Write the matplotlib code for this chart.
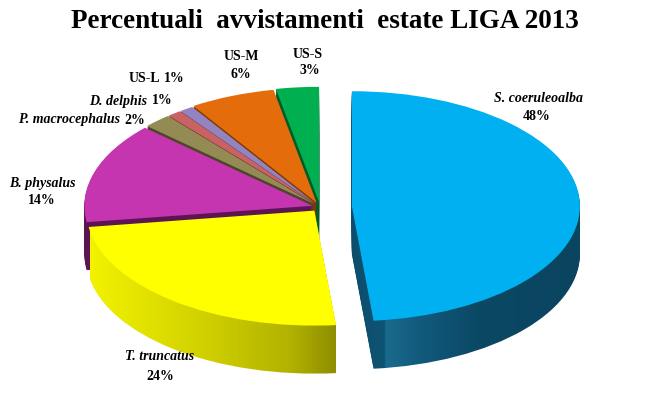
import numpy as np
import matplotlib.pyplot as plt
from matplotlib.colors import to_rgb

# dati (percentuali)
specie = ['S. coeruleoalba', 'T. truncatus', 'B. physalus', 'P. macrocephalus',
          'D. delphis', 'US-L', 'US-M', 'US-S']
percent = [48, 24, 14, 2, 1, 1, 6, 3]
corsivo = [True, True, True, True, True, False, False, False]

col_top = ['#00B0F0', '#FFFF00', '#C535B0', '#948A54',
           '#C96363', '#9583C0', '#E46C0A', '#00B050']
col_side = ['#0C4D6C', '#B4B400', '#5C1553', '#4C4629',
            '#6A2C2C', '#4B3E68', '#7C3A06', '#005C2A']
explode = [0.14, 0.04, 0.035, 0.035, 0.035, 0.035, 0.04, 0.045]

# sfumature dei lati (px, colore) per blu e giallo
sfum = {
    0: [(350, '#0D4D6C'), (384, '#0F5373'), (386, '#1A6A8D'), (425, '#10587A'),
        (480, '#0B4864'), (585, '#0A4560')],
    1: [(90, '#F2F200'), (200, '#D2D200'), (290, '#B2B200'), (348, '#848400')],
}

# posizioni delle etichette (pixel): nome, percentuale
pos_nome = [(538, 98), (160, 356), (42, 183), (120, 120),
            (147, 101), (160, 79), (241, 57), (308, 54)]
pos_pct = [(537, 116), (160, 376), (42, 201), (124, 120),
           (152, 101), (164, 79), (241, 74), (310, 70)]
una_riga = [False, False, False, True, True, True, False, False]

W, H = 648, 400
cx, cy = 320, 207     # centro della torta (px)
rx, ry = 228, 115     # semiassi (px)
prof = 48             # spessore (px)

fig = plt.figure(figsize=(W / 100, H / 100), dpi=100)
ax = fig.add_axes([0, 0, 1, 1])

# immagini per le sfumature
grad = {}
for i, stops in sfum.items():
    xs = np.array([(p - cx) / rx for p, c in stops])
    cols = np.array([to_rgb(c) for p, c in stops])
    xx = np.linspace(xs[0], xs[-1], 300)
    img = np.stack([np.interp(xx, xs, cols[:, j]) for j in range(3)], axis=-1)
    grad[i] = (img[None, :, :], xs[0], xs[-1])

# lati: tante torte sovrapposte, dal basso verso l'alto
n = 40
for k in range(n, 0, -1):
    dz = prof / ry * k / n
    wedges, _ = ax.pie(percent, colors=col_side, explode=explode, startangle=90,
                       counterclock=False, center=(0, -dz),
                       wedgeprops=dict(linewidth=0))
    for i, (img, x0, x1) in grad.items():
        wedges[i].set_facecolor('none')
        im = ax.imshow(img, extent=(x0, x1, -3, 3), aspect='auto', zorder=1,
                       interpolation='bilinear')
        im.set_clip_path(wedges[i])
# faccia superiore
ax.pie(percent, colors=col_top, explode=explode, startangle=90,
       counterclock=False, wedgeprops=dict(linewidth=0))

ax.set_aspect('auto')
ax.set_xlim(-cx / rx, (W - cx) / rx)
ax.set_ylim((cy - H) / ry, cy / ry)
ax.axis('off')

fig.text(325 / W, 1 - 22 / H, 'Percentuali  avvistamenti  estate LIGA 2013',
         ha='center', va='center', fontsize=19.5, fontweight='bold',
         family='Liberation Serif')

for i in range(len(specie)):
    stile = 'italic' if corsivo[i] else 'normal'
    xn, yn = pos_nome[i]
    xp, yp = pos_pct[i]
    if una_riga[i]:
        fig.text(xn / W, 1 - yn / H, specie[i], ha='right', va='center',
                 fontsize=10, fontweight='bold', style=stile,
                 family='Liberation Serif')
        fig.text(xp / W, 1 - yp / H, '%d%%' % percent[i], ha='left',
                 va='center', fontsize=10, fontweight='bold',
                 family='Liberation Serif')
    else:
        fig.text(xn / W, 1 - yn / H, specie[i], ha='center', va='center',
                 fontsize=10, fontweight='bold', style=stile,
                 family='Liberation Serif')
        fig.text(xp / W, 1 - yp / H, '%d%%' % percent[i], ha='center',
                 va='center', fontsize=10, fontweight='bold',
                 family='Liberation Serif')

fig.savefig('out.png', dpi=100)
